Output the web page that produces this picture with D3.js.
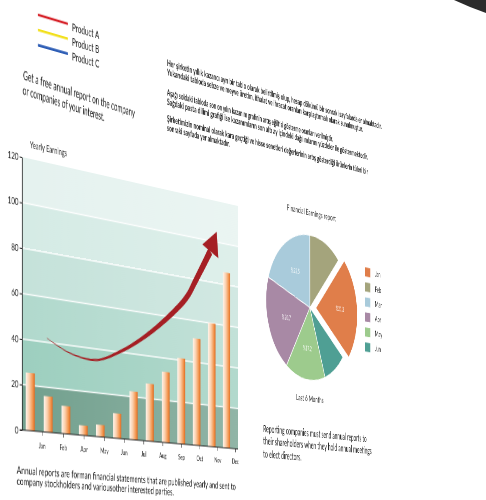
<!DOCTYPE html>
<html><head><meta charset="utf-8">
<script src="https://cdn.jsdelivr.net/npm/d3@7"></script>
<style>
html,body{margin:0;padding:0;background:#fff;width:486px;height:500px;overflow:hidden;}
#page{position:absolute;left:0;top:0;transform-origin:0 0;}
#edge{position:absolute;left:0;top:0;}
text{font-family:Lato,"Open Sans",sans-serif;fill:#1a1a1a;}
</style></head><body>
<svg id="page" width="800" height="520"></svg>
<svg id="edge" width="486" height="500"></svg>
<script>
// ---------- data ----------
const barSlots = ["b1","b2","b3","b4","b5","b6","b7","b8","b9","b10","b11","b12","b13"];
const barValues = [25.5,16,12.5,4.5,5.5,11.5,22.5,27,33.5,41,51.5,60,86];
const monthTicks = ["Jan","Feb","Apr","May","Jun","Jul","Aug","Sep","Oct","Nov","Dec"];
const yTicks = [0,20,40,60,80,100,120];
const pieMonths = ["Jan","Feb","Mar","Apr","May","Jun"];
const pieValues = [23.7,11.9,19.9,21.0,14.9,8.6];
const pieLabels = ["%21.3","","%23.5","%20.7","%17.2",""];
const products = ["Product A","Product B","Product C"];
// arrow centreline: x in % of plot width, y in chart value units
const arrowX = [10.4,20.3,32.1,42.5,51.7,63.6,74.2,78.2,85.8];
const arrowY = [41.9,36.5,35.0,40.2,46.9,58.1,70.8,78.8,94.9];
const headX = [89.05,81.8,89.9];
const headY = [105.1,97.5,92.3];

// ---------- styles ----------
const productColors = ["#d6232a","#f2e01c","#2d5db5"];
const pieColors = ["#e07e4a","#a4a47c","#a9cbdb","#a889a5","#9dcb8d","#4f9f94"];
const bandColors = ["#72a08e","#9dcfbf","#b1d9cd","#c5e2da","#d5ebe5","#e5f2ef"];

const ox = 30, oy = 165, PW = 400, PH = 273;

// ---------- perspective (page photographed at an angle) ----------
function solve(A,b){const n=b.length;for(let i=0;i<n;i++){let m=i;for(let r=i+1;r<n;r++)if(Math.abs(A[r][i])>Math.abs(A[m][i]))m=r;[A[i],A[m]]=[A[m],A[i]];[b[i],b[m]]=[b[m],b[i]];for(let r=i+1;r<n;r++){const f=A[r][i]/A[i][i];for(let c=i;c<n;c++)A[r][c]-=f*A[i][c];b[r]-=f*b[i];}}const x=new Array(n);for(let i=n-1;i>=0;i--){let s=b[i];for(let c=i+1;c<n;c++)s-=A[i][c]*x[c];x[i]=s/A[i][i];}return x;}
function homog(src,dst){const A=[],b=[];for(let i=0;i<4;i++){const [X,Y]=src[i],[x,y]=dst[i];A.push([X,Y,1,0,0,0,-x*X,-x*Y]);b.push(x);A.push([0,0,0,X,Y,1,-y*X,-y*Y]);b.push(y);}const h=solve(A,b);return `matrix3d(${h[0]},${h[3]},0,${h[6]},${h[1]},${h[4]},0,${h[7]},0,0,1,0,${h[2]},${h[5]},0,1)`;}
document.getElementById("page").style.transform = homog(
  [[ox,oy],[ox+PW,oy],[ox+PW,oy+PH],[ox,oy+PH]],
  [[22,157],[238,206],[238,449],[22,430]]);

const svg = d3.select("#page");
const g = svg.append("g").attr("transform",`translate(${ox},${oy})`);
const defs = svg.append("defs");

// ---------- scales ----------
const y = d3.scaleLinear().domain([0,120]).range([PH,0]);
const xb = d3.scaleBand().domain(barSlots).range([0,390]).paddingInner(0.5).paddingOuter(0.2);
const xm = d3.scalePoint().domain(monthTicks).range([33,394]);
const xp = d3.scaleLinear().domain([0,100]).range([0,PW]);

// ---------- plot background ----------
const bands = d3.pairs(yTicks);
g.selectAll("rect.band").data(bands).join("rect").attr("class","band")
  .attr("x",0).attr("width",PW)
  .attr("y",d=>y(d[1])).attr("height",d=>y(d[0])-y(d[1]))
  .attr("fill",(d,i)=>bandColors[i]);
const lg = defs.append("linearGradient").attr("id","sheen");
lg.append("stop").attr("offset","0%").attr("stop-color","#fff").attr("stop-opacity",0);
lg.append("stop").attr("offset","100%").attr("stop-color","#fff").attr("stop-opacity",0.22);
g.append("rect").attr("x",0).attr("y",0).attr("width",PW).attr("height",PH).attr("fill","url(#sheen)");
g.selectAll("line.grid").data(yTicks.slice(1,-1)).join("line").attr("class","grid")
  .attr("x1",0).attr("x2",PW).attr("y1",d=>y(d)).attr("y2",d=>y(d))
  .attr("stroke","#fff").attr("stroke-width",1.3).attr("stroke-opacity",0.9);

// ---------- bars ----------
const bg = defs.append("linearGradient").attr("id","barg");
[["0%","#fff4ec"],["40%","#fbcfac"],["80%","#f19148"],["100%","#dc6a24"]].forEach(s=>
  bg.append("stop").attr("offset",s[0]).attr("stop-color",s[1]));
g.selectAll("rect.bar").data(barValues).join("rect").attr("class","bar")
  .attr("x",(d,i)=>xb(barSlots[i])).attr("width",xb.bandwidth())
  .attr("y",d=>y(d)).attr("height",d=>y(0)-y(d))
  .attr("fill","url(#barg)");

// ---------- arrow ----------
const cl = arrowX.map((d,i)=>[xp(d),y(arrowY[i])]);
const tmp = g.append("path").attr("d",d3.line().curve(d3.curveCatmullRom.alpha(0.5))(cl)).attr("fill","none");
const L = tmp.node().getTotalLength();
const left=[], right=[], N=90;
for(let i=0;i<=N;i++){
  const t=i/N, s=t*L;
  const p=tmp.node().getPointAtLength(s);
  const pa=tmp.node().getPointAtLength(Math.max(0,s-0.6)), pb=tmp.node().getPointAtLength(Math.min(L,s+0.6));
  let dx=pb.x-pa.x, dy=pb.y-pa.y; const m=Math.hypot(dx,dy)||1; dx/=m; dy/=m;
  const w=0.25+4.6*Math.pow(t,1.2);
  left.push([p.x-dy*w,p.y+dx*w]); right.push([p.x+dy*w,p.y-dx*w]);
}
tmp.remove();
g.append("path").attr("d",d3.line()(left.concat(right.reverse()))+"Z").attr("fill","#a51f24");
g.append("path").attr("d",d3.line()(headX.map((d,i)=>[xp(d),y(headY[i])]))+"Z").attr("fill","#a51f24");

// ---------- axes ----------
const ya = g.append("g").call(d3.axisLeft(y).tickValues(yTicks).tickSize(4).tickSizeOuter(0).tickPadding(2));
ya.select(".domain").attr("stroke","#222").attr("stroke-width",1.2);
ya.selectAll(".tick line").attr("stroke","#222");
ya.selectAll("text").attr("font-size",10).attr("fill","#333");
g.append("line").attr("x1",-4).attr("x2",PW).attr("y1",y(0)).attr("y2",y(0)).attr("stroke","#222").attr("stroke-width",1.2);
const xa = g.append("g").attr("transform",`translate(0,${y(0)})`).call(d3.axisBottom(xm).tickSize(4).tickPadding(7));
xa.select(".domain").remove();
xa.selectAll(".tick line").attr("stroke","#222");
xa.selectAll("text").attr("font-size",8).attr("fill","#333");

g.append("text").attr("x",13).attr("y",-11).attr("font-size",9).attr("textLength",63).attr("lengthAdjust","spacingAndGlyphs").text("Yearly Earnings");

// ---------- product legend ----------
const pl = g.selectAll("g.prod").data(products).join("g").attr("class","prod")
  .attr("transform",(d,i)=>`translate(26.6,${-147+i*15.3})`);
pl.append("line").attr("x1",0).attr("x2",51).attr("stroke",(d,i)=>productColors[i]).attr("stroke-width",2.6);
pl.append("text").attr("x",58).attr("y",5.5).attr("font-size",11).text(d=>d);

// ---------- text blocks ----------
function para(lines,x,y0,dy,fs,widths,rot,fw){
  const pg = g.append("g").attr("transform",`rotate(${rot||0},${x},${y0})`);
  lines.forEach((t,i)=>{
    const tx=pg.append("text").attr("x",x).attr("y",y0+i*dy).attr("font-size",fs).attr("font-weight",fw||400).text(t);
    if(widths&&widths[i]) tx.attr("textLength",widths[i]).attr("lengthAdjust","spacingAndGlyphs");
  });
}
para(["Get a free annual report on the company","or companies of your interest."],1.6,-78,15,12.5,[196,141],2.5);
para(["Her şirketin yıllık kazancı ayrı bir tablo olarak belirtilmiş olup, hesap dökümü bir sonraki sayfalarda er almaktadır.",
      "Yukarıdaki tabloda sebze ve meyve üretim, ithalat ve ihracat oranları karşılaştırmalı olarak sunulmuştur."],258,-134,10,9.5,[468,422],0,700);
para(["Aşağı soldaki tabloda son on yılın kazanım grafinin artış eğiltisi gösterme oranları verilmiştir.",
      "Sağdaki pasta dilimi grafiği ise kazanımların son altı ay içindeki dağılımlarını yüzdeler ile göstermektedir."],258,-102,10,9.5,[351,434],0,700);
para(["Şirketimizin nominal olarak kara geçtiği ve hisse senetleri değerlerinin artış gösterdiği ürünlerin tüleri bir",
      "sonraki sayfada yer almaktadır."],258,-74,10,9.5,[434,125],0,700);
para(["Reporting companies must send annual reports to","their shareholders when they hold annual meetings","to elect directors."],453,251,14.5,10.5,[236,248,84]);
para(["Annual reports are forman financial statements that are published yearly and sent to","company stockholders and variousother interested parties."],-8.7,317,11,10.5,[404,280],0.3);

// ---------- pie ----------
g.append("text").attr("x",560).attr("y",-8).attr("text-anchor","middle").attr("font-size",9.5)
  .attr("textLength",111).attr("lengthAdjust","spacingAndGlyphs").text("Financial Earnings report");
const pg = g.append("g").attr("transform","translate(556,100) scale(1.14,1)");
const deg = Math.PI/180;
const pie = d3.pie().sort(null).startAngle(128*deg).endAngle(128*deg-2*Math.PI);
const arcs = pie(pieValues);
const R = 85;
const arc = d3.arc().innerRadius(0).outerRadius(R);
const slice = pg.selectAll("g.sl").data(arcs).join("g").attr("class","sl")
  .attr("transform",(d,i)=>{ if(i!==0) return null; const a=(d.startAngle+d.endAngle)/2; return `translate(${Math.sin(a)*12},${-Math.cos(a)*12})`;});
slice.append("path").attr("d",arc).attr("fill",(d,i)=>pieColors[i]).attr("stroke","#fff").attr("stroke-width",1);
slice.append("text").attr("transform",d=>{const c=d3.arc().innerRadius(0).outerRadius(R*1.15).centroid(d);return `translate(${c[0]},${c[1]}) scale(0.88,1)`;})
  .attr("text-anchor","middle").attr("dy","0.35em").attr("font-size",7).style("fill","#fff").style("fill-opacity",0.9)
  .text((d,i)=>pieLabels[i]);

const leg = g.selectAll("g.pleg").data(pieMonths).join("g").attr("class","pleg")
  .attr("transform",(d,i)=>`translate(685,${44.8+i*18.2})`);
leg.append("rect").attr("x",0).attr("y",-5.5).attr("width",13).attr("height",11).attr("fill",(d,i)=>pieColors[i]);
leg.append("text").attr("x",24).attr("y",3.5).attr("font-size",9.5).text(d=>d);

g.append("text").attr("x",556).attr("y",210).attr("text-anchor","middle").attr("font-size",9.5)
  .attr("textLength",62).attr("lengthAdjust","spacingAndGlyphs").text("Last 6 Months");

// ---------- curled page corner (top right) ----------
d3.select("#edge").append("path").attr("d","M454,0 L486,0 L486,13 Q469,7 454,0 Z").attr("fill","#2b2b2b");
</script>
</body></html>
